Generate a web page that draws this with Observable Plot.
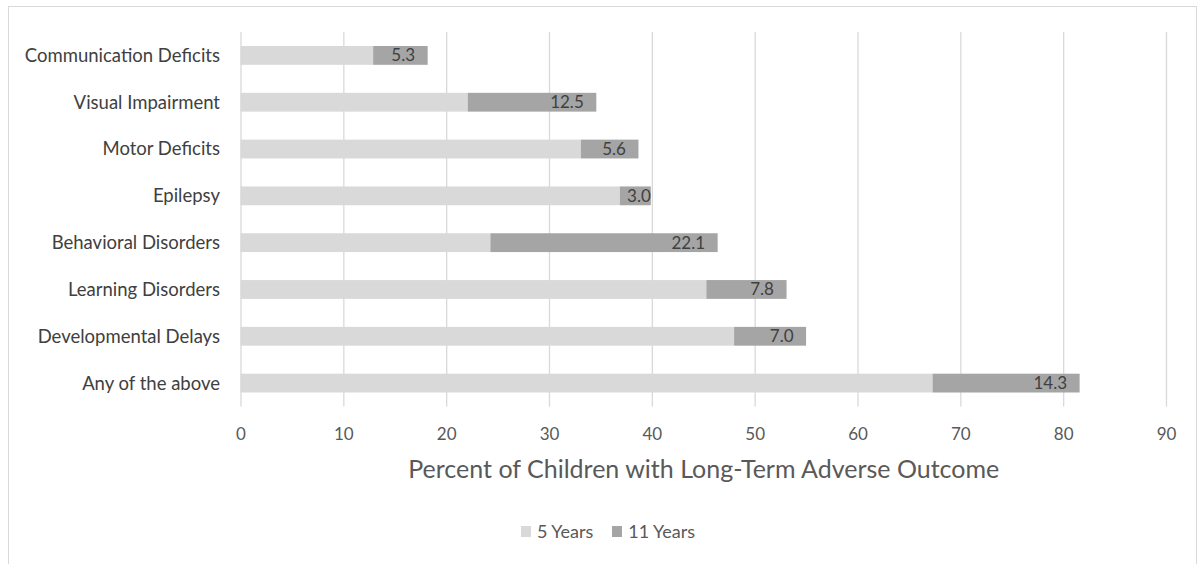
<!DOCTYPE html>
<html>
<head>
<meta charset="utf-8">
<script src="https://cdn.jsdelivr.net/npm/d3@7"></script>
<script src="https://cdn.jsdelivr.net/npm/@observablehq/plot@0.6"></script>
<style>
  html, body { margin: 0; padding: 0; background: #fff; }
  body { width: 1200px; height: 564px; position: relative; overflow: hidden; font-family: Lato, "Open Sans", sans-serif; }
  #frame { position: absolute; left: 8px; top: 6px; width: 1189px; height: 570px; border: 1.3px solid #d9d9d9; box-sizing: border-box; }
  #chart { position: absolute; left: 0; top: 0; }
  #legend { position: absolute; left: 0; width: 1216px; top: 520px; display: flex; justify-content: center; gap: 19px; font-size: 18px; color: #595959; }
  #legend span.item { display: inline-flex; align-items: center; gap: 6px; }
  #legend span.sw { display: inline-block; width: 10px; height: 11px; }
</style>
</head>
<body>
<div id="frame"></div>
<div id="chart"></div>
<div id="legend"></div>
<script>
const categories = ["Communication Deficits", "Visual Impairment", "Motor Deficits", "Epilepsy", "Behavioral Disorders", "Learning Disorders", "Developmental Delays", "Any of the above"];
const fiveYears = [12.9, 22.1, 33.1, 36.9, 24.3, 45.3, 48.0, 67.3];
const elevenYearsAdded = [5.3, 12.5, 5.6, 3.0, 22.1, 7.8, 7.0, 14.3];
const seriesNames = ["5 Years", "11 Years"];
const seriesColors = ["#d9d9d9", "#a5a5a5"];
const xTicks = [0, 10, 20, 30, 40, 50, 60, 70, 80, 90];
const axisTitle = "Percent of Children with Long-Term Adverse Outcome";

const rows = [];
categories.forEach((c, i) => {
  rows.push({cat: c, series: seriesNames[0], value: fiveYears[i]});
  rows.push({cat: c, series: seriesNames[1], value: elevenYearsAdded[i]});
});
const labels = categories.map((c, i) => ({
  cat: c, start: fiveYears[i], add: elevenYearsAdded[i], total: fiveYears[i] + elevenYearsAdded[i]
}));

const chart = Plot.plot({
  width: 1200,
  height: 500,
  marginLeft: 240.5,
  marginRight: 34,
  marginTop: 32,
  marginBottom: 93.5,
  style: {fontFamily: "Lato, 'Open Sans', sans-serif", background: "transparent"},
  x: {domain: [0, 90]},
  y: {domain: categories, padding: 0, round: false},
  color: {domain: seriesNames, range: seriesColors},
  marks: [
    Plot.ruleX(xTicks, {stroke: "#d9d9d9", strokeWidth: 1.3}),
    Plot.barX(rows, {x: "value", y: "cat", fill: "series", insetTop: 14, insetBottom: 14}),
    Plot.text(labels, {
      x: d => Math.max(d.total - 1.27, d.start + 2.95),
      y: "cat",
      text: d => d.add.toFixed(1),
      textAnchor: "end",
      fill: "#404040",
      fontSize: 17
    }),
    Plot.axisX({ticks: xTicks, tickSize: 0, tickPadding: 21, fontSize: 17, color: "#595959", label: null}),
    Plot.axisY({tickSize: 0, tickPadding: 21, fontSize: 18.5, color: "#404040", label: null}),
    Plot.text([axisTitle], {frameAnchor: "bottom", lineAnchor: "middle", dy: 63, fontSize: 25, fill: "#595959", text: d => d})
  ]
});
document.getElementById("chart").appendChild(chart);

const legend = document.getElementById("legend");
seriesNames.forEach((s, i) => {
  const item = document.createElement("span");
  item.className = "item";
  const sw = document.createElement("span");
  sw.className = "sw";
  sw.style.background = seriesColors[i];
  item.appendChild(sw);
  item.appendChild(document.createTextNode(s));
  legend.appendChild(item);
});
</script>
</body>
</html>
